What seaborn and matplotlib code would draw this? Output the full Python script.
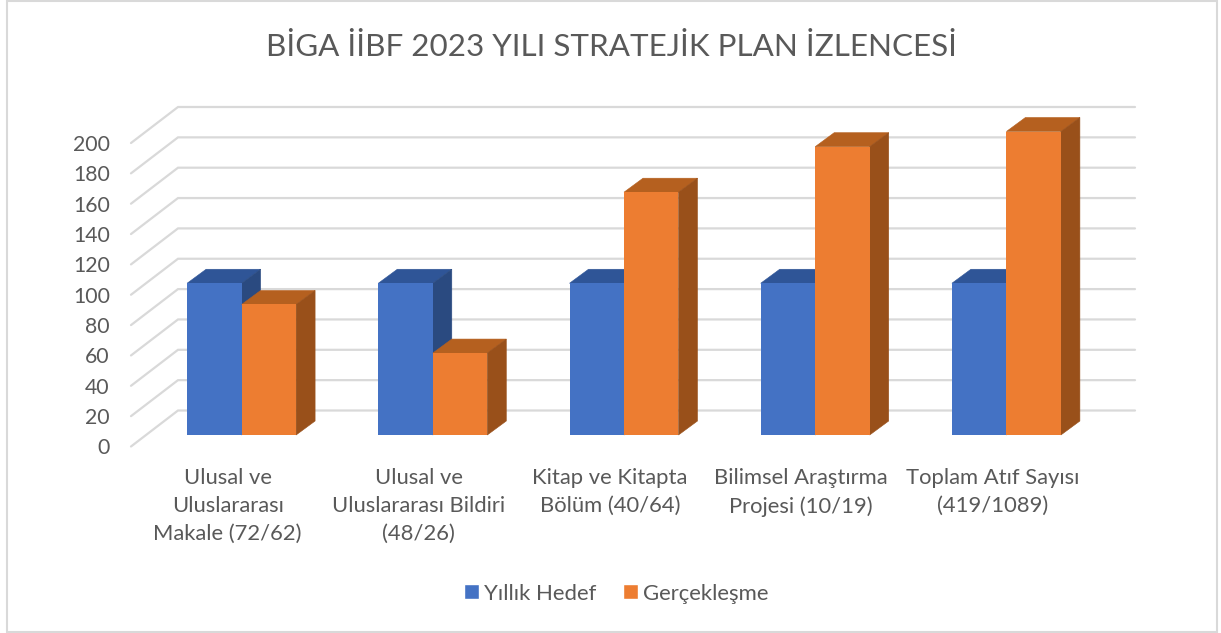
import matplotlib
matplotlib.use('Agg')
import matplotlib.pyplot as plt
from matplotlib.patches import Polygon, Rectangle
from matplotlib.transforms import ScaledTranslation
import pandas as pd
import seaborn as sns

categories = ['Ulusal ve\nUluslararası\nMakale (72/62)',
              'Ulusal ve\nUluslararası Bildiri\n(48/26)',
              'Kitap ve Kitapta\nBölüm (40/64)',
              'Bilimsel Araştırma\nProjesi (10/19)',
              'Toplam Atıf Sayısı\n(419/1089)']
hedef = [100, 100, 100, 100, 100]
gerceklesme = [86, 54, 160, 190, 200]
yticks = list(range(0, 201, 20))

W, H = 1221, 633
BLUE, ORANGE = '#4472c4', '#ed7d31'
TEXT = '#595959'

sns.set_theme(style='white')
plt.rcParams['font.family'] = ['Lato', 'DejaVu Sans']

data = pd.DataFrame({
    'kategori': categories * 2,
    'deger': hedef + gerceklesme,
    'seri': ['Yıllık Hedef'] * 5 + ['Gerçekleşme'] * 5,
})

fig = plt.figure(figsize=(W / 100, H / 100), dpi=100)
# axes = front plane of the bars, pixels from the reference
left, right, top, bottom = 146, 1102, 131.5, 435
ax = fig.add_axes([left / W, 1 - bottom / H, (right - left) / W, (bottom - top) / H])

sns.barplot(data=data, x='kategori', y='deger', hue='seri', ax=ax,
            palette=[BLUE, ORANGE], width=0.57, gap=0, saturation=1, legend=False)
ax.set_xlim(-0.5, 4.5)
ax.set_ylim(0, 200)
sx = (right - left) / 5
sy = (bottom - top) / 200


def px(dx, dy):
    # pixel offset -> data offset
    return dx / sx, -dy / sy


# fake 3d walls
for v in yticks:
    bx, by = px(32, -24.5)
    fx, fy = px(-15, 11.5)
    ex = px(1135 - right, 0)[0]
    ax.plot([-0.5 + fx, -0.5 + bx, 4.5 + ex], [v + fy, v + by, v + by], color='#d9d9d9',
            lw=1.6, clip_on=False, zorder=1, solid_joinstyle='miter')

# fake 3d bar faces
shades = {BLUE: ('#2f5597', '#2a4a80'), ORANGE: ('#b5601f', '#99501a')}
ddx, ddy = px(19, -14)
n = len(categories)
for i, bar in enumerate(ax.patches[:2 * n]):
    col = BLUE if i < n else ORANGE
    z = 2 if i < n else 4
    x0, x1 = bar.get_x(), bar.get_x() + bar.get_width()
    h = bar.get_height()
    bar.set_zorder(z + 1)
    bar.set_edgecolor('none')
    ax.add_patch(Polygon([(x0, h), (x1, h), (x1 + ddx, h + ddy), (x0 + ddx, h + ddy)],
                         fc=shades[col][0], ec=shades[col][0], lw=0.4, clip_on=False, zorder=z))
    ax.add_patch(Polygon([(x1, 0), (x1 + ddx, ddy), (x1 + ddx, h + ddy), (x1, h)],
                         fc=shades[col][1], ec=shades[col][1], lw=0.4, clip_on=False, zorder=z))

sns.despine(ax=ax, left=True, bottom=True, top=True, right=True)
ax.set_xlabel('')
ax.set_ylabel('')
ax.set_yticks(yticks)
ax.tick_params(axis='both', length=0, colors=TEXT)
ax.tick_params(axis='y', labelsize=15.3, pad=26)
ax.tick_params(axis='x', labelsize=15.8, pad=24)
shift = ScaledTranslation(0, -11.5 / 100, fig.dpi_scale_trans)
for lab in ax.get_yticklabels():
    lab.set_transform(lab.get_transform() + shift)
xshift = ScaledTranslation(-14 / 100, 0, fig.dpi_scale_trans)
for lab in ax.get_xticklabels():
    lab.set_linespacing(1.5)
    lab.set_transform(lab.get_transform() + xshift)

fig.text(612 / W, 1 - 47 / H, 'BİGA İİBF 2023 YILI STRATEJİK PLAN İZLENCESİ', ha='center',
         va='center', fontsize=22.6, color=TEXT)

# legend
handles = [Rectangle((0, 0), 1, 1, fc=BLUE), Rectangle((0, 0), 1, 1, fc=ORANGE)]
fig.legend(handles, ['Yıllık Hedef', 'Gerçekleşme'], ncol=2, frameon=False, loc='center',
           bbox_to_anchor=(616.5 / W, 1 - 593.5 / H), fontsize=15.9, labelcolor=TEXT,
           handlelength=0.68, handleheight=0.68, handletextpad=0.22, columnspacing=1.2)

# chart frame
fig.add_artist(Rectangle((6.5 / W, 1 - 631.7 / H), 1210 / W, 630.7 / H, transform=fig.transFigure,
                         fc='none', ec='#d9d9d9', lw=1.5))

fig.savefig('out.png', dpi=100)
